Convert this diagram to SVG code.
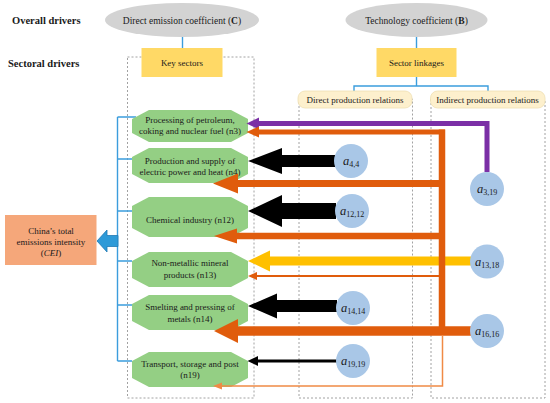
<svg xmlns="http://www.w3.org/2000/svg" width="550" height="403" viewBox="0 0 550 403">
<style>
text{font-family:"Liberation Serif","Times New Roman",serif;fill:#1a1a1a}
.hdr{font-size:10.5px;font-weight:bold}
.t9{font-size:9px}
.t95{font-size:9.5px}
.ell{fill:#d3d3d3}
.ybox{fill:#ffd966}
.lbl{fill:#fdf0cd;stroke:#efdfb3;stroke-width:0.8}
.dash{fill:none;stroke:#8a8a8a;stroke-width:0.8;stroke-dasharray:2,2}
.oct{fill:#94cf84}
.circ{fill:#a9c7e7}
.blue{stroke:#3b9ddd;stroke-width:1.4;fill:none}
.or{stroke:#e05c0c;fill:none}
.orf{fill:#e05c0c}
.lo{stroke:#f08a45;fill:none;stroke-width:1.5}
.lof{fill:#f08a45}
.ci{font-size:12.5px;font-style:italic}
.cs{font-size:8px}
</style>

<!-- headers -->
<text class="hdr" x="12" y="24">Overall drivers</text>
<text class="hdr" x="8" y="67">Sectoral drivers</text>

<!-- dashed frames -->
<rect class="dash" x="127.5" y="57" width="126.5" height="341"/>
<rect class="dash" x="299" y="99" width="113.5" height="299"/>
<rect class="dash" x="431" y="99" width="114" height="299"/>

<!-- connectors -->
<g id="connectors">
  <path class="blue" d="M182.5,37 V48"/>
  <path class="blue" d="M416.5,37 V48"/>
  <path class="blue" d="M416.5,77 V86 M354,91 V86 H488 V91"/>
  <path class="blue" d="M117.5,117 V361 M117.5,117 H136 M117.5,159 H132 M117.5,211 H132 M117.5,261 H132 M117.5,305 H132 M117.5,361 H132"/>
  <polygon points="97,241 107,230 107,235.5 118,235.5 118,246.5 107,246.5 107,252" fill="#2e9ad8" stroke="#1f78b4" stroke-width="0.8"/>
</g>

<!-- nodes -->
<g id="overall-C">
  <ellipse class="ell" cx="182" cy="20" rx="77" ry="17"/>
  <text class="t95" x="182" y="23.5" text-anchor="middle">Direct emission coefficient (<tspan font-weight="bold">C</tspan>)</text>
</g>
<g id="overall-B">
  <ellipse class="ell" cx="416.5" cy="20" rx="71" ry="17"/>
  <text class="t95" x="416.5" y="23.5" text-anchor="middle">Technology coefficient (<tspan font-weight="bold">B</tspan>)</text>
</g>
<g id="key-sectors">
  <rect class="ybox" x="141.5" y="48" width="81" height="29"/>
  <text class="t9" x="182" y="65.5" text-anchor="middle">Key sectors</text>
</g>
<g id="sector-linkages">
  <rect class="ybox" x="376.5" y="48" width="80" height="29"/>
  <text class="t9" x="416.5" y="65.5" text-anchor="middle">Sector linkages</text>
</g>
<g id="direct-relations">
  <rect class="lbl" x="298" y="91" width="114" height="17" rx="7"/>
  <text class="t9" x="355" y="102.5" text-anchor="middle">Direct production relations</text>
</g>
<g id="indirect-relations">
  <rect class="lbl" x="430.5" y="91" width="114.5" height="17" rx="7"/>
  <text class="t9" x="487.5" y="102.5" text-anchor="middle">Indirect production relations</text>
</g>
<g id="cei">
  <rect x="5" y="215" width="91.5" height="50" fill="#f5a77a"/>
  <text class="t9" x="51" y="233.5" text-anchor="middle">China’s total</text>
  <text class="t9" x="51" y="245" text-anchor="middle">emissions intensity</text>
  <text class="t9" x="51" y="256" text-anchor="middle">(<tspan font-style="italic">CEI</tspan>)</text>
</g>

<g id="n3">
  <polygon class="oct" points="149,110 231,110 248,119 248,133 231,142 149,142 132,133 132,119"/>
  <text class="t9" x="190" y="122.5" text-anchor="middle">Processing of petroleum,</text>
  <text class="t9" x="190" y="133.5" text-anchor="middle">coking and nuclear fuel (n3)</text>
</g>
<g id="n4">
  <polygon class="oct" points="149,148 231,148 248,157 248,174 231,183 149,183 132,174 132,157"/>
  <text class="t9" x="190" y="164" text-anchor="middle">Production and supply of</text>
  <text class="t9" x="190" y="174.5" text-anchor="middle">electric power and heat (n4)</text>
</g>
<g id="n12">
  <polygon class="oct" points="149,197 231,197 248,206 248,228 231,237 149,237 132,228 132,206"/>
  <text class="t9" x="190" y="222.5" text-anchor="middle">Chemical industry (n12)</text>
</g>
<g id="n13">
  <polygon class="oct" points="149,252 231,252 248,261 248,278 231,287 149,287 132,278 132,261"/>
  <text class="t9" x="190" y="266" text-anchor="middle">Non-metallic mineral</text>
  <text class="t9" x="190" y="277.5" text-anchor="middle">products (n13)</text>
</g>
<g id="n14">
  <polygon class="oct" points="149,295 231,295 248,304 248,321 231,330 149,330 132,321 132,304"/>
  <text class="t9" x="190" y="310" text-anchor="middle">Smelting and pressing of</text>
  <text class="t9" x="190" y="321.5" text-anchor="middle">metals (n14)</text>
</g>
<g id="n19">
  <polygon class="oct" points="149,352 231,352 248,361 248,378 231,387 149,387 132,378 132,361"/>
  <text class="t9" x="190" y="366.5" text-anchor="middle">Transport, storage and post</text>
  <text class="t9" x="190" y="378" text-anchor="middle">(n19)</text>
</g>

<!-- flow arrows -->
<g id="flows">
  <!-- yellow -->
  <path d="M471,261 H268" stroke="#ffc000" stroke-width="9" fill="none"/>
  <polygon points="248,261 270,250.5 270,271.5" fill="#ffc000"/>
  <!-- purple -->
  <path d="M487,172 V123.5 H258" stroke="#7b2fa6" stroke-width="5" fill="none"/>
  <polygon points="246.5,123.5 259,117.5 259,129.5" fill="#7b2fa6"/>
  <!-- orange thick network -->
  <path class="or" d="M442,129.5 V335" stroke-width="6.5"/>
  <path class="or" d="M445,132 H258" stroke-width="5"/>
  <polygon class="orf" points="246.5,132 259,126.5 259,137.5"/>
  <path class="or" d="M445,183.5 H236" stroke-width="7"/>
  <polygon class="orf" points="213,183.5 238,173.5 238,193.5"/>
  <path class="or" d="M445,236 H235" stroke-width="6.5"/>
  <polygon class="orf" points="214,236 237,228.5 237,243.5"/>
  <path class="or" d="M442,276 H255" stroke-width="2"/>
  <polygon class="orf" points="248,276 257,272 257,280"/>
  <path class="or" d="M471,331 H236" stroke-width="9.5"/>
  <polygon class="orf" points="214,331 238,319 238,343"/>
  <!-- thin light orange -->
  <path class="lo" d="M442.5,335 V386 H220"/>
  <polygon class="lof" points="213,386 222,382.5 222,389.5"/>
  <!-- black -->
  <polygon points="248,161 282,148 282,155 335,155 335,167 282,167 282,174" fill="#000"/>
  <polygon points="248,211 282,195 282,203 336,203 336,219 282,219 282,227" fill="#000"/>
  <polygon points="248,306 277,293.5 277,300 337,300 337,312 277,312 277,318.5" fill="#000"/>
  <path d="M337,361 H257" stroke="#000" stroke-width="3" fill="none"/>
  <polygon points="247.5,361 258,356 258,366" fill="#000"/>
</g>

<!-- coefficient circles -->
<g id="a3-19"><circle class="circ" cx="487" cy="189" r="17"/><text x="487" y="193" text-anchor="middle"><tspan class="ci">a</tspan><tspan class="cs" dy="2">3,19</tspan></text></g>
<g id="a4-4"><circle class="circ" cx="351" cy="161" r="17"/><text x="351" y="165" text-anchor="middle"><tspan class="ci">a</tspan><tspan class="cs" dy="2">4,4</tspan></text></g>
<g id="a12-12"><circle class="circ" cx="352" cy="211" r="17"/><text x="352" y="215" text-anchor="middle"><tspan class="ci">a</tspan><tspan class="cs" dy="2">12,12</tspan></text></g>
<g id="a13-18"><circle class="circ" cx="487" cy="261.5" r="17"/><text x="487" y="265.5" text-anchor="middle"><tspan class="ci">a</tspan><tspan class="cs" dy="2">13,18</tspan></text></g>
<g id="a14-14"><circle class="circ" cx="353" cy="308" r="17"/><text x="353" y="312" text-anchor="middle"><tspan class="ci">a</tspan><tspan class="cs" dy="2">14,14</tspan></text></g>
<g id="a16-16"><circle class="circ" cx="487" cy="331" r="17"/><text x="487" y="335" text-anchor="middle"><tspan class="ci">a</tspan><tspan class="cs" dy="2">16,16</tspan></text></g>
<g id="a19-19"><circle class="circ" cx="353" cy="361" r="17"/><text x="353" y="365" text-anchor="middle"><tspan class="ci">a</tspan><tspan class="cs" dy="2">19,19</tspan></text></g>
</svg>
